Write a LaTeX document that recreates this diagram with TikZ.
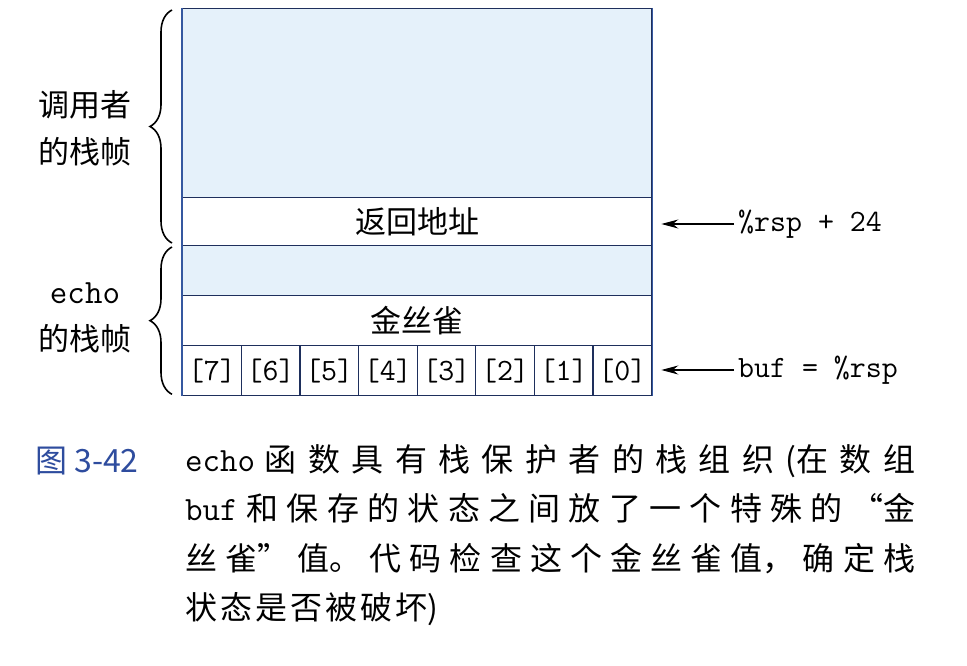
\documentclass[tikz,border=0pt]{standalone}
\usepackage{fontspec}
\setmainfont{Noto Sans CJK SC}
\usetikzlibrary{decorations.pathreplacing,arrows.meta}
\definecolor{stackblue}{HTML}{E5F1FA}
\definecolor{framecol}{HTML}{1E2F5C}
\definecolor{edgeblue}{HTML}{3558A0}
\definecolor{capblue}{HTML}{2E4C9E}
\begin{document}
\begin{tikzpicture}[x=1pt,y=-1pt,
  row/.style={draw=framecol, line width=1.3pt, minimum width=469pt, inner sep=0pt,
    anchor=north west, font=\fontsize{31}{36}\selectfont},
  cell/.style={draw=framecol, line width=1.3pt, minimum width=58.625pt, minimum height=50pt,
    inner sep=0pt, anchor=north west, font=\ttfamily\fontsize{31}{34}\selectfont},
  lbl/.style={align=center, inner sep=0pt, font=\fontsize{31}{47}\selectfont},
  ptr/.style={anchor=west, inner sep=0pt, font=\ttfamily\fontsize{31}{34}\selectfont},
  arr/.style={-{Stealth[length=17pt,width=9pt]}, line width=1.5pt, shorten >=9pt, shorten <=4pt},
  bracestyle/.style={decorate, decoration={brace, amplitude=22pt, aspect=0.5}, line width=1.6pt}
]
\path[use as bounding box, fill=white] (0,0) rectangle (967,666);

% stack rows
\node[row, fill=stackblue, minimum height=189pt] (caller) at (182,8) {};
\node[row, minimum height=48pt] (ret) at (182,197) {返回地址};
\node[row, fill=stackblue, minimum height=50pt] (pad) at (182,245) {};
\node[row, minimum height=50pt] (canary) at (182,295) {金丝雀};
\foreach \i in {7,6,5,4,3,2,1,0}{
  \pgfmathsetmacro{\xx}{182+58.625*(7-\i)}
  \node[cell] (b\i) at (\xx,345) {[\i]};
}
\draw[edgeblue, line width=1.5pt] (caller.north west) -- (b7.south west);
\draw[edgeblue, line width=1.5pt] (caller.north east) -- (b0.south east);

% braces
\draw[bracestyle] ([xshift=-10pt,yshift=2pt]pad.north west) -- ([xshift=-10pt,yshift=-2pt]caller.north west);
\draw[bracestyle] ([xshift=-10pt,yshift=2pt]b7.south west) -- ([xshift=-10pt,yshift=-2pt]pad.north west);

% frame labels
\node[lbl] (callerlbl) at (85,128) {调用者\\的栈帧};
\node[lbl] (echolbl) at (85,318) {{\ttfamily\fontsize{34}{47}\selectfont echo}\\的栈帧};

% pointers
\node[ptr] (rsp24) at (738,224) {\%rsp + 24};
\node[ptr] (bufrsp) at (738,370) {buf = \%rsp};
\draw[arr] (rsp24.west) -- (rsp24.west -| ret.east);
\draw[arr] (bufrsp.west) -- (bufrsp.west -| b0.east);

% caption
\node[anchor=base west, inner sep=0pt, text=capblue, font=\fontsize{32}{40}\selectfont] (fig) at (35,472) {图 3-42};
\node[anchor=north west, text width=730pt, align=justify, inner sep=0pt,
  font=\fontsize{32}{49.5}\selectfont] (cap) at (185,444)
  {\XeTeXlinebreaklocale "zh"\XeTeXlinebreakskip=3pt plus 12pt\tolerance=10000
   {\ttfamily\fontsize{34}{49.5}\selectfont echo} 函数具有栈保护者的栈组织(在数组\linebreak
   {\ttfamily\fontsize{34}{49.5}\selectfont buf} 和保存的状态之间放了一个特殊的“金\linebreak
   丝雀”值。代码检查这个金丝雀值，确定栈\linebreak
   状态是否被破坏)};
\end{tikzpicture}
\end{document}
